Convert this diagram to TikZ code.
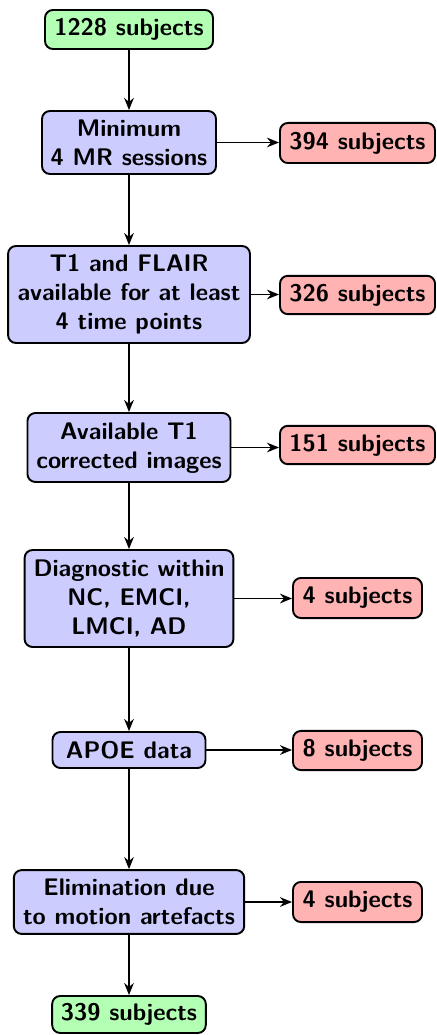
\documentclass[tikz,border=0pt]{standalone}
\usetikzlibrary{arrows.meta}
\definecolor{gfill}{HTML}{B3FFB3}
\definecolor{bfill}{HTML}{CCCCFF}
\definecolor{rfill}{HTML}{FFB3B3}
\begin{document}
\begin{tikzpicture}[x=0.41667pt,y=-0.41667pt,
  box/.style={draw=black,line width=0.8pt,rounded corners=3.3pt,inner sep=0pt,
    align=center,font=\sffamily\bfseries,text=black},
  gbox/.style={box,fill=gfill},
  bbox/.style={box,fill=bfill},
  rbox/.style={box,fill=rfill},
  arr/.style={line width=0.75pt,-{Stealth[length=5pt,width=4pt]}}]
\useasboundingbox (0,0) rectangle (436,1035);
\node[gbox,minimum width=70pt,minimum height=16.25pt] (g1) at (129,29.5) {1228 subjects};
\node[bbox,minimum width=72.5pt,minimum height=26.25pt] (m) at (129,142.5) {Minimum\\4 MR sessions};
\node[rbox,minimum width=64.6pt,minimum height=16.7pt] (r1) at (357.5,143) {394 subjects};
\node[bbox,minimum width=100.8pt,minimum height=40.4pt] (t) at (129,294.5) {T1 and FLAIR\\available for at least\\4 time points};
\node[rbox,minimum width=64.6pt,minimum height=16pt] (r2) at (357.5,295) {326 subjects};
\node[bbox,minimum width=84.6pt,minimum height=28.75pt] (a) at (129,447.5) {Available T1\\corrected images};
\node[rbox,minimum width=64.6pt,minimum height=16pt] (r3) at (357.5,445) {151 subjects};
\node[bbox,minimum width=87pt,minimum height=40.4pt] (d) at (129,598.5) {Diagnostic within\\NC, EMCI,\\LMCI, AD};
\node[rbox,minimum width=53.75pt,minimum height=16.7pt] (r4) at (357.5,598) {4 subjects};
\node[bbox,minimum width=63.75pt,minimum height=15pt] (ap) at (129,750) {APOE data};
\node[rbox,minimum width=53.75pt,minimum height=16.3pt] (r5) at (357.5,750.5) {8 subjects};
\node[bbox,minimum width=96pt,minimum height=26.6pt] (e) at (129,902) {Elimination due\\to motion artefacts};
\node[rbox,minimum width=53.75pt,minimum height=16.7pt] (r6) at (357.5,902) {4 subjects};
\node[gbox,minimum width=64pt,minimum height=15.4pt] (g2) at (129,1014.5) {339 subjects};
\draw[arr] (g1.south) -- (m.north);
\draw[arr] (m.south) -- (t.north);
\draw[arr] (t.south) -- (a.north);
\draw[arr] (a.south) -- (d.north);
\draw[arr] (d.south) -- (ap.north);
\draw[arr] (ap.south) -- (e.north);
\draw[arr] (e.south) -- (g2.north);
\draw[arr] (m.east) -- (m.east -| r1.west);
\draw[arr] (t.east) -- (t.east -| r2.west);
\draw[arr] (a.east) -- (a.east -| r3.west);
\draw[arr] (d.east) -- (d.east -| r4.west);
\draw[arr] (ap.east) -- (ap.east -| r5.west);
\draw[arr] (e.east) -- (e.east -| r6.west);
\end{tikzpicture}
\end{document}
